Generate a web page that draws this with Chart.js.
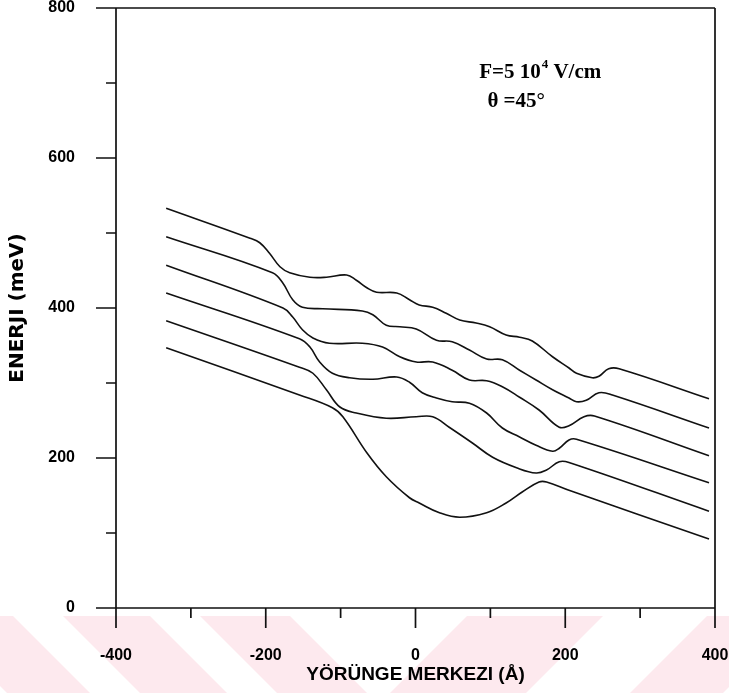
<!DOCTYPE html>
<html>
<head>
<meta charset="utf-8">
<script src="https://cdn.jsdelivr.net/npm/chart.js@4/dist/chart.umd.min.js"></script>
<style>
  html, body { margin: 0; padding: 0; background: #ffffff; }
  canvas { display: block; }
</style>
</head>
<body>
<canvas id="chart" width="729" height="693"></canvas>
<script>
// Orbit-centre positions (Å) and subband energies (meV), one pair per level, lowest first.
const x1 = [-333, -155, -111, -97, -65, -39, -8, 5, 32, 59, 95, 121, 143, 165, 175, 205, 392];
const e1 = [347, 284, 267, 255, 207, 175, 147, 140, 127, 121, 127, 140, 155, 168, 168, 157, 92];

const x2 = [-333, -155, -137, -119, -101, -79, -39, 1, 23, 45, 76, 103, 135, 161, 175, 192, 205, 392];
const e2 = [383, 321, 313, 291, 268, 260, 253, 255, 255, 241, 220, 201, 187, 180, 184, 195, 194, 129];

const x3 = [-333, -155, -141, -128, -111, -88, -57, -25, -8, 9, 28, 49, 72, 95, 116, 139, 161, 183, 192, 205, 215, 392];
const e3 = [420, 359, 348, 328, 313, 307, 305, 308, 301, 287, 280, 275, 273, 260, 240, 228, 217, 209, 213, 224, 225, 167];

const x4 = [-333, -177, -164, -151, -137, -115, -71, -44, -21, 1, 23, 49, 72, 95, 116, 139, 165, 192, 205, 225, 239, 392];
const e4 = [457, 400, 388, 371, 360, 353, 353, 348, 335, 328, 328, 317, 304, 303, 295, 281, 264, 241, 243, 255, 256, 203];

const x5 = [-333, -191, -177, -164, -151, -124, -71, -57, -39, -21, 1, 28, 49, 72, 95, 116, 139, 161, 183, 205, 215, 228, 245, 263, 392];
const e5 = [495, 447, 433, 411, 401, 399, 396, 391, 377, 375, 372, 357, 355, 344, 332, 331, 317, 304, 291, 280, 275, 277, 287, 284, 240];

const x6 = [-333, -221, -208, -195, -181, -168, -141, -119, -92, -79, -65, -52, -25, -8, 5, 23, 41, 59, 81, 99, 121, 139, 156, 183, 205, 215, 236, 245, 258, 272, 392];
const e6 = [533, 493, 487, 473, 455, 447, 441, 441, 444, 437, 427, 421, 420, 411, 404, 401, 393, 384, 380, 375, 364, 361, 356, 335, 320, 313, 307, 309, 319, 319, 279];

// Axis ticks
const xMajorTicks = [-400, -200, 0, 200, 400];
const xMinorTicks = [-300, -100, 100, 300];
const yMajorTicks = [0, 200, 400, 600, 800];
const yMinorTicks = [100, 300, 500, 700];

// Labels
const xTitle = 'YÖRÜNGE MERKEZI (Å)';
const yTitle = 'ENERJI (meV)';
const fieldText = 'F=5 10';
const fieldExp = '4';
const fieldUnit = ' V/cm';
const angleText = '\u03B8 =45\u00B0';

const levelX = [x1, x2, x3, x4, x5, x6];
const levelE = [e1, e2, e3, e4, e5, e6];

const datasets = levelX.map((xs, i) => ({
  label: 'n' + (i + 1),
  data: xs.map((x, j) => ({ x: x, y: levelE[i][j] })),
  borderColor: '#111111',
  borderWidth: 1.6,
  pointRadius: 0,
  fill: false,
  tension: 0.4
}));

// Faint diagonal bands behind the lower margin
const bandsPlugin = {
  id: 'bands',
  beforeDraw(chart) {
    const ctx = chart.ctx;
    const top = 616, bottom = 693, shift = bottom - top;
    ctx.save();
    ctx.fillStyle = '#fde9ee';
    const back = [[-70, 13], [63, 150], [200, 290]];
    const fwd = [[467, 603], [707, 800]];
    back.forEach(([a, b]) => {
      ctx.beginPath();
      ctx.moveTo(a, top); ctx.lineTo(b, top);
      ctx.lineTo(b + shift, bottom); ctx.lineTo(a + shift, bottom);
      ctx.closePath(); ctx.fill();
    });
    fwd.forEach(([a, b]) => {
      ctx.beginPath();
      ctx.moveTo(a, top); ctx.lineTo(b, top);
      ctx.lineTo(b - shift, bottom); ctx.lineTo(a - shift, bottom);
      ctx.closePath(); ctx.fill();
    });
    ctx.restore();
  }
};

// Box frame, outward tick marks and the field annotation
const framePlugin = {
  id: 'frame',
  afterDraw(chart) {
    const ctx = chart.ctx;
    const xs = chart.scales.x, ys = chart.scales.y;
    const L = xs.getPixelForValue(-400), R = xs.getPixelForValue(400);
    const T = ys.getPixelForValue(800), B = ys.getPixelForValue(0);
    ctx.save();
    ctx.strokeStyle = '#111111';
    ctx.lineWidth = 1.7;
    ctx.beginPath();
    ctx.moveTo(L, T); ctx.lineTo(R, T);
    ctx.moveTo(L, B); ctx.lineTo(R, B);
    ctx.moveTo(L, T); ctx.lineTo(L, B);
    ctx.moveTo(R, T); ctx.lineTo(R, B);
    ctx.stroke();
    ctx.beginPath();
    xMajorTicks.forEach(v => { const p = xs.getPixelForValue(v); ctx.moveTo(p, B); ctx.lineTo(p, B + 20); });
    xMinorTicks.forEach(v => { const p = xs.getPixelForValue(v); ctx.moveTo(p, B); ctx.lineTo(p, B + 10); });
    yMajorTicks.forEach(v => { const p = ys.getPixelForValue(v); ctx.moveTo(L, p); ctx.lineTo(L - 20, p); });
    yMinorTicks.forEach(v => { const p = ys.getPixelForValue(v); ctx.moveTo(L, p); ctx.lineTo(L - 10, p); });
    ctx.stroke();

    ctx.fillStyle = '#000000';
    ctx.textBaseline = 'alphabetic';
    ctx.textAlign = 'left';
    const serif = '"Liberation Serif", "Times New Roman", serif';
    let fx = xs.getPixelForValue(85), fy = ys.getPixelForValue(707);
    ctx.font = 'bold 21px ' + serif;
    ctx.fillText(fieldText, fx, fy);
    fx += ctx.measureText(fieldText).width + 1;
    ctx.font = 'bold 13px ' + serif;
    ctx.fillText(fieldExp, fx, fy - 10);
    fx += ctx.measureText(fieldExp).width;
    ctx.font = 'bold 21px ' + serif;
    ctx.fillText(fieldUnit, fx, fy);
    ctx.fillText(angleText, xs.getPixelForValue(96), ys.getPixelForValue(668));
    ctx.restore();
  }
};

const sans = '"Liberation Sans", Arial, sans-serif';

new Chart(document.getElementById('chart'), {
  type: 'line',
  data: { datasets: datasets },
  options: {
    responsive: false,
    devicePixelRatio: 1,
    animation: false,
    layout: { padding: { top: 8, right: 14, left: 0, bottom: 0 } },
    plugins: { legend: { display: false }, tooltip: { enabled: false } },
    scales: {
      x: {
        type: 'linear',
        min: -400, max: 400,
        grid: { display: false },
        border: { display: false },
        ticks: { stepSize: 200, color: '#000', padding: 30, font: { family: sans, size: 16, weight: 'bold' } },
        title: { display: true, text: xTitle, color: '#000', padding: { top: 0, bottom: 7 }, font: { family: sans, size: 19, weight: 'bold' } },
        afterFit(scale) {
          scale.height = 85;
          scale.paddingLeft = 0; scale.paddingRight = 0;
          scale.paddingTop = 0; scale.paddingBottom = 0;
        }
      },
      y: {
        type: 'linear',
        min: 0, max: 800,
        grid: { display: false },
        border: { display: false },
        ticks: { stepSize: 200, color: '#000', padding: 33, font: { family: sans, size: 16, weight: 'bold' } },
        title: { display: true, text: yTitle, color: '#000', padding: { top: 6, bottom: 0 }, font: { family: '"DejaVu Sans", sans-serif', size: 20, weight: 'bold' } },
        afterFit(scale) {
          scale.width = 116;
          scale.paddingLeft = 0; scale.paddingRight = 0;
          scale.paddingTop = 0; scale.paddingBottom = 0;
        }
      }
    }
  },
  plugins: [bandsPlugin, framePlugin]
});
</script>
</body>
</html>
